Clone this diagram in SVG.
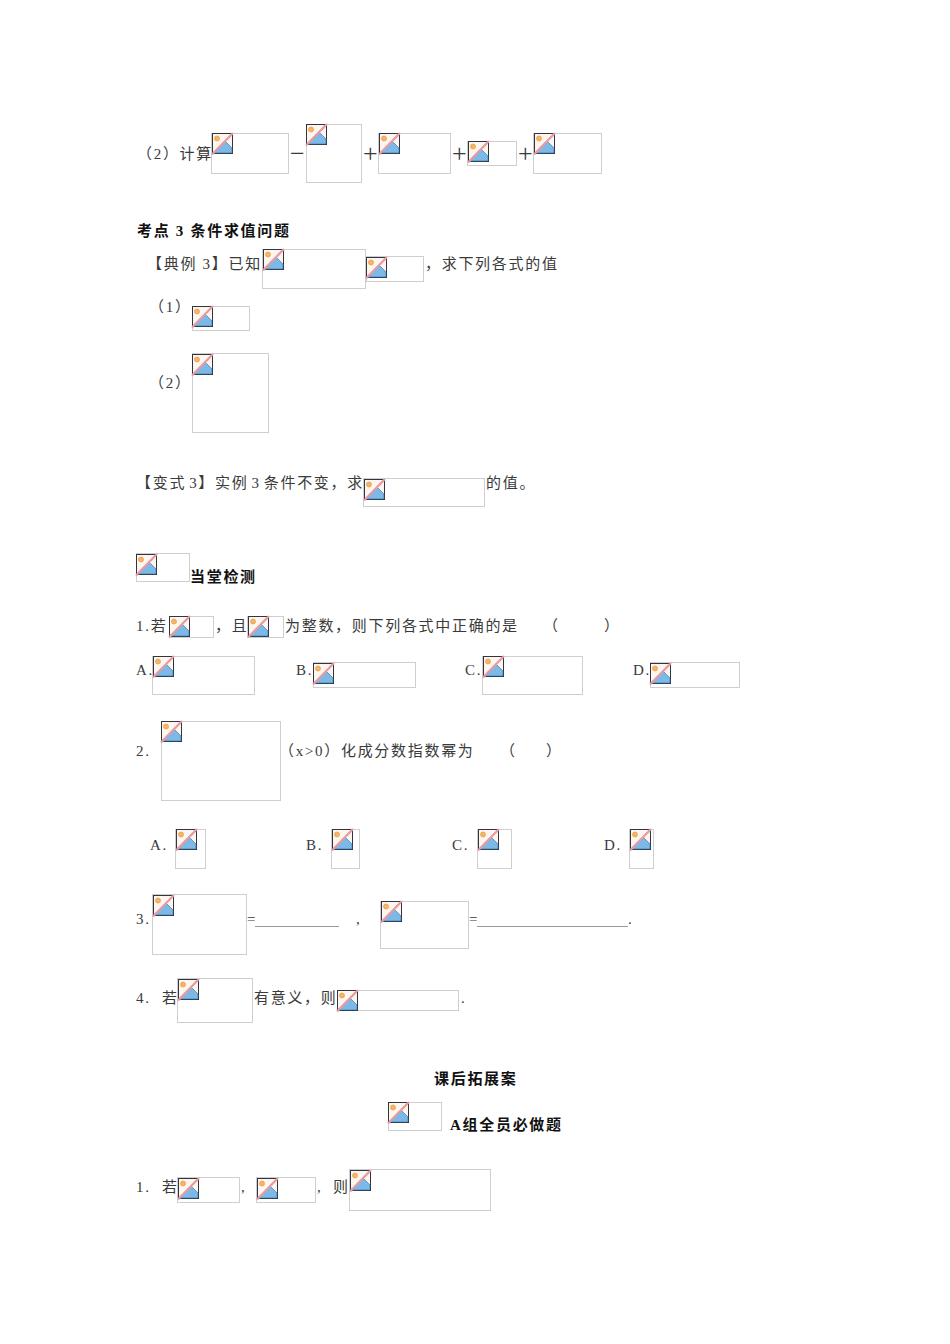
<svg xmlns="http://www.w3.org/2000/svg" width="950" height="1344" viewBox="0 0 950 1344">
<style>
text{font-family:"Liberation Serif","Noto Sans CJK SC",serif;font-size:15px;fill:#3a3a3a;letter-spacing:1.7px}
.b{font-weight:bold;fill:#111}
.o{font-size:26px;letter-spacing:0}
.t{word-spacing:-2.400px}
.f{fill:#fff;stroke:#cfcfcf;stroke-width:1}
.u{stroke:#999;stroke-width:1}
</style>
<defs>
<g id="i">
<rect x="0.500" y="0.500" width="20" height="20" fill="#fdf6ee" stroke="#334" stroke-width="1"/>
<circle cx="5" cy="5.500" r="2.500" fill="#f5b567" stroke="#eda04a" stroke-width="0.800"/>
<path d="M1 20 L13 8 L20 15 V20 Z" fill="#7cb9e8" stroke="#2e6e9e" stroke-width="0.600"/>
<path d="M0 21.500 L21 0" stroke="#e59aa0" stroke-width="2.200" fill="none"/>
</g>
</defs>
<rect width="950" height="1344" fill="#fff"/>
<g id="connectors"/>
<g id="images">
<g id="m1"><rect class="f" x="211.500" y="133.500" width="77" height="40"/><use href="#i" x="212" y="133"/></g>
<g id="m2"><rect class="f" x="306.500" y="124.500" width="55" height="58"/><use href="#i" x="306" y="124"/></g>
<g id="m3"><rect class="f" x="378.500" y="133.500" width="72" height="40"/><use href="#i" x="379" y="133"/></g>
<g id="m4"><rect class="f" x="467.500" y="141.500" width="49" height="24"/><use href="#i" x="468" y="141"/></g>
<g id="m5"><rect class="f" x="533.500" y="133.500" width="68" height="40"/><use href="#i" x="534" y="133"/></g>
<g id="m6"><rect class="f" x="262.500" y="249.500" width="103" height="39"/><use href="#i" x="263" y="249"/></g>
<g id="m7"><rect class="f" x="366.500" y="256.500" width="57" height="25"/><use href="#i" x="366" y="257"/></g>
<g id="m8"><rect class="f" x="192.500" y="306.500" width="57" height="24"/><use href="#i" x="192" y="306"/></g>
<g id="m9"><rect class="f" x="192.500" y="353.500" width="76" height="79"/><use href="#i" x="192" y="354"/></g>
<g id="m10"><rect class="f" x="363.500" y="478.500" width="121" height="28"/><use href="#i" x="364" y="479"/></g>
<g id="m11"><rect class="f" x="136.500" y="553.500" width="53" height="28"/><use href="#i" x="136" y="554"/></g>
<g id="m12"><rect class="f" x="169.500" y="616.500" width="44" height="21"/><use href="#i" x="169" y="616"/></g>
<g id="m13"><rect class="f" x="247.500" y="616.500" width="36" height="21"/><use href="#i" x="248" y="616"/></g>
<g id="m14"><rect class="f" x="152.500" y="656.500" width="102" height="38"/><use href="#i" x="153" y="656"/></g>
<g id="m15"><rect class="f" x="313.500" y="662.500" width="102" height="25"/><use href="#i" x="313" y="663"/></g>
<g id="m16"><rect class="f" x="482.500" y="656.500" width="100" height="38"/><use href="#i" x="483" y="656"/></g>
<g id="m17"><rect class="f" x="650.500" y="662.500" width="89" height="25"/><use href="#i" x="650" y="663"/></g>
<g id="m18"><rect class="f" x="161.500" y="721.500" width="119" height="79"/><use href="#i" x="161" y="721"/></g>
<g id="m19"><rect class="f" x="175.500" y="829.500" width="30" height="39"/><use href="#i" x="176" y="829"/></g>
<g id="m20"><rect class="f" x="331.500" y="829.500" width="28" height="39"/><use href="#i" x="332" y="829"/></g>
<g id="m21"><rect class="f" x="477.500" y="829.500" width="34" height="39"/><use href="#i" x="478" y="829"/></g>
<g id="m22"><rect class="f" x="629.500" y="829.500" width="24" height="39"/><use href="#i" x="630" y="829"/></g>
<g id="m23"><rect class="f" x="152.500" y="894.500" width="94" height="60"/><use href="#i" x="153" y="895"/></g>
<g id="m24"><rect class="f" x="380.500" y="901.500" width="88" height="47"/><use href="#i" x="381" y="901"/></g>
<g id="m25"><rect class="f" x="177.500" y="978.500" width="75" height="44"/><use href="#i" x="178" y="979"/></g>
<g id="m26"><rect class="f" x="337.500" y="990.500" width="121" height="20"/><use href="#i" x="337" y="990"/></g>
<g id="m27"><rect class="f" x="388.500" y="1102.500" width="53" height="28"/><use href="#i" x="388" y="1102"/></g>
<g id="m28"><rect class="f" x="177.500" y="1177.500" width="62" height="25"/><use href="#i" x="178" y="1178"/></g>
<g id="m29"><rect class="f" x="256.500" y="1177.500" width="59" height="25"/><use href="#i" x="257" y="1178"/></g>
<g id="m30"><rect class="f" x="349.500" y="1169.500" width="141" height="41"/><use href="#i" x="350" y="1170"/></g>
</g>
<g id="labels">
<text x="137" y="159">（2）计算</text>
<text class="o" x="290" y="162">−</text>
<text class="o" x="363" y="162">+</text>
<text class="o" x="452" y="162">+</text>
<text class="o" x="518" y="162">+</text>
<text class="b" x="137" y="236">考点 3 条件求值问题</text>
<text x="147" y="269">【典例 3】已知</text>
<text x="425" y="269">，求下列各式的值</text>
<text x="149" y="312">（1）</text>
<text x="149" y="388">（2）</text>
<text class="t" x="136" y="488">【变式 3】实例 3 条件不变，求</text>
<text x="486" y="488">的值。</text>
<text class="b" x="190" y="582">当堂检测</text>
<text x="136" y="631">1.若</text>
<text x="215" y="631">，且</text>
<text x="285" y="631">为整数，则下列各式中正确的是</text>
<text x="543" y="631">（</text>
<text x="604" y="631">）</text>
<text x="136" y="675">A.</text>
<text x="296" y="675">B.</text>
<text x="465" y="675">C.</text>
<text x="633" y="675">D.</text>
<text x="136" y="756">2.</text>
<text x="279" y="756">（x&gt;0）化成分数指数幂为</text>
<text x="500" y="756">（</text>
<text x="546" y="756">）</text>
<text x="150" y="850">A.</text>
<text x="306" y="850">B.</text>
<text x="452" y="850">C.</text>
<text x="604" y="850">D.</text>
<text x="136" y="924">3.</text>
<text x="247" y="924">=</text>
<line class="u" x1="255" y1="926.500" x2="339" y2="926.500"/>
<text x="356" y="924">,</text>
<text x="469" y="924">=</text>
<line class="u" x1="477" y1="926.500" x2="628" y2="926.500"/>
<text x="628" y="924">.</text>
<text x="136" y="1003">4.</text>
<text x="162" y="1003">若</text>
<text x="254" y="1003">有意义，则</text>
<text x="461" y="1003">.</text>
<text class="b" x="434" y="1084">课后拓展案</text>
<text class="b" x="450" y="1130">A组全员必做题</text>
<text x="136" y="1192">1.</text>
<text x="162" y="1192">若</text>
<text x="241" y="1192">,</text>
<text x="317" y="1192">,</text>
<text x="333" y="1192">则</text>
</g>
</svg>
